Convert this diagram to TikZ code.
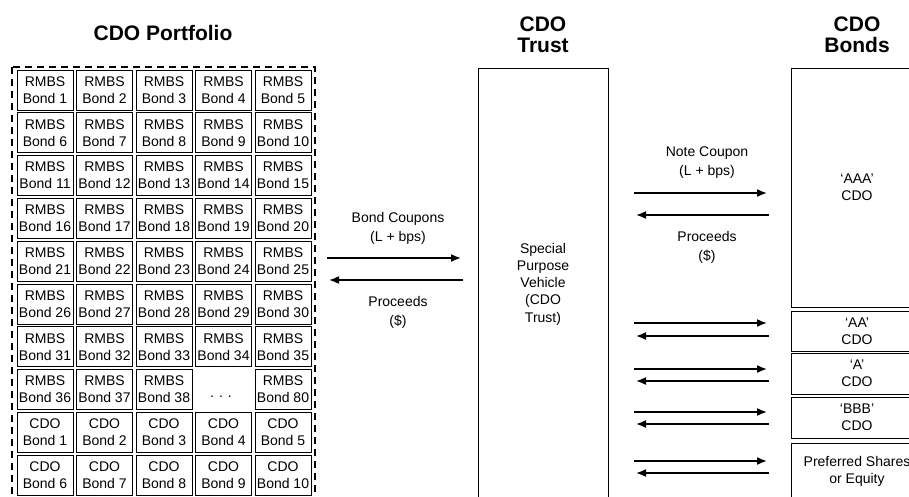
\documentclass[tikz,border=0pt]{standalone}
\usepackage{fontspec}
\setmainfont{Liberation Sans}
\usetikzlibrary{arrows.meta}
\tikzset{
  cell/.style={draw,line width=1pt,minimum width=56,minimum height=40,inner sep=0pt,align=center,font=\fontsize{14}{17}\selectfont},
  tranche/.style={draw,line width=1pt,minimum width=132,inner sep=0pt,align=center,font=\fontsize{14}{17}\selectfont},
  lbl/.style={align=center,font=\fontsize{14}{19}\selectfont},
  head/.style={align=center,font=\fontsize{21}{21}\selectfont\bfseries},
  flow/.style={line width=1.6pt,-{Latex[length=10pt,width=8pt]}}
}
\begin{document}
\begin{tikzpicture}[x=1pt,y=-1pt]
  \useasboundingbox (0,0) rectangle (909,496);
  \node[head] (porttitle) at (163,33) {CDO Portfolio};
  \node[head] (trusttitle) at (543,35) {CDO\\Trust};
  \node[head] (bondtitle) at (857,35) {CDO\\Bonds};
  \draw [line width=2pt,dash pattern=on 7pt off 5pt] (12,67) rectangle (315,500);
  \foreach \r in {1,...,7}
  \foreach \c in {1,...,5} {
    \pgfmathtruncatemacro\n{(\r-1)*5+\c}
    \node[cell] (rmbs\n) at ({45+59.5*(\c-1)},{90+42.8*(\r-1)}) {RMBS\\Bond \n};
  }
  \foreach \c/\n in {1/36,2/37,3/38,5/80}
    \node[cell] (rmbs\n) at ({45+59.5*(\c-1)},389.6) {RMBS\\Bond \n};
  \node[font=\fontsize{14}{17}\selectfont,anchor=base,inner sep=0pt] (dots) at (221,397) {.\hspace{5pt}.\hspace{5pt}.};
  \foreach \r in {9,10}
  \foreach \c in {1,...,5} {
    \pgfmathtruncatemacro\n{(\r-9)*5+\c}
    \node[cell] (cdo\n) at ({45+59.5*(\c-1)},{90+42.8*(\r-1)}) {CDO\\Bond \n};
  }
  \node[draw,line width=1pt,minimum width=130,minimum height=432,inner sep=0pt,align=center,
    font=\fontsize{14}{17.3}\selectfont] (trust) at (543,284) {Special\\Purpose\\Vehicle\\(CDO\\Trust)};
  \node[tranche,minimum height=239] (aaa) at (857,187.5) {‘AAA’\\CDO};
  \node[tranche,minimum height=40] (aa) at (857,331) {‘AA’\\CDO};
  \node[tranche,minimum height=41] (a) at (857,373.5) {‘A’\\CDO};
  \node[tranche,minimum height=41] (bbb) at (857,417.5) {‘BBB’\\CDO};
  \node[tranche,minimum height=57] (pref) at (857,471.5) {Preferred Shares\\or Equity};
  \coordinate (pin1) at (327,258);
  \coordinate (pin2) at (461,258);
  \coordinate (pout1) at (463,280);
  \coordinate (pout2) at (329,280);
  \draw [flow] (pin1)--(pin2);
  \draw [flow] (pout1)--(pout2);
  \node[lbl] (coupons) at (398,228) {Bond Coupons\\(L + bps)};
  \node[lbl] (proceeds) at (398,312) {Proceeds\\(\$)};
  \foreach \t/\a/\b in {aaa/193/215,aa/323/336,a/369/381,bbb/412/424,pref/461/473} {
    \coordinate (\t-out1) at (634,\a);
    \coordinate (\t-out2) at (767,\a);
    \coordinate (\t-in1) at (769,\b);
    \coordinate (\t-in2) at (636,\b);
    \draw [flow] (\t-out1)--(\t-out2);
    \draw [flow] (\t-in1)--(\t-in2);
  }
  \node[lbl] (notecoupon) at (707,163) {Note Coupon\\(L + bps)};
  \node[lbl] (noteproceeds) at (707,247) {Proceeds\\(\$)};
\end{tikzpicture}
\end{document}
